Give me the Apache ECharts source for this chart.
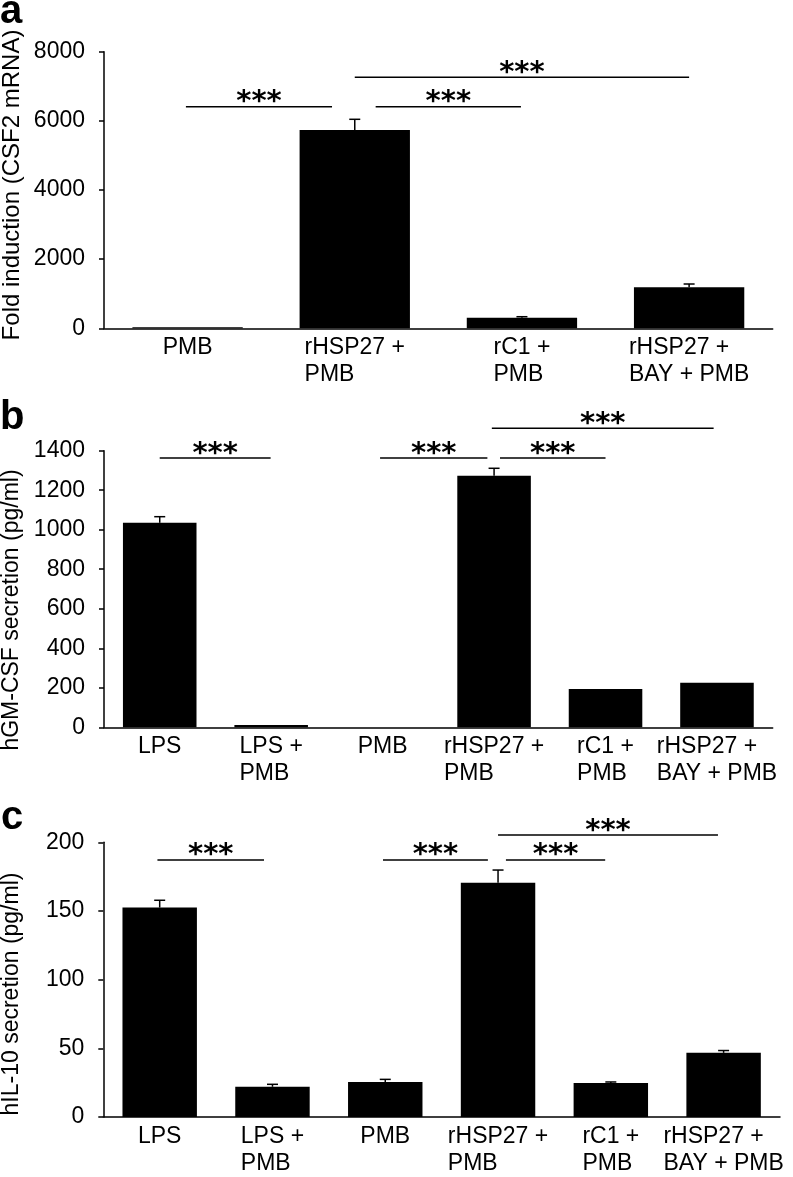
<!DOCTYPE html>
<html>
<head>
<meta charset="utf-8">
<script src="https://cdn.jsdelivr.net/npm/echarts@6/dist/echarts.min.js"></script>
<style>html,body{margin:0;padding:0;background:#fff;}#c{width:793px;height:1177px;}</style>
</head>
<body>
<div id="c"></div>
<script>
// ---- data ----
const catA = ['PMB', 'rHSP27 +\nPMB', 'rC1 +\nPMB', 'rHSP27 +\nBAY + PMB'];
const valA = [30, 5735, 307, 1186];
const errA = [0, 310, 28, 95];
const catB = ['LPS', 'LPS +\nPMB', 'PMB', 'rHSP27 +\nPMB', 'rC1 +\nPMB', 'rHSP27 +\nBAY + PMB'];
const valB = [1035, 12, 0, 1273, 194, 226];
const errB = [31, 0, 0, 38, 0, 0];
const catC = ['LPS', 'LPS +\nPMB', 'PMB', 'rHSP27 +\nPMB', 'rC1 +\nPMB', 'rHSP27 +\nBAY + PMB'];
const valC = [152.5, 22, 25.5, 170.5, 24.8, 46.7];
const errC = [5.3, 1.8, 1.9, 9.3, 0.7, 1.7];
// significance brackets: [from category pos, to category pos, height]
const sigA = [[-0.01, 0.864, 6410], [1.125, 1.994, 6410], [1.0, 3.0, 7260]];
const sigB = [[0, 0.995, 1363], [1.977, 2.94, 1363], [3.053, 4.0, 1363], [2.98, 4.97, 1513]];
const sigC = [[-0.02, 0.925, 187.2], [1.98, 2.91, 187.2], [3.07, 3.95, 187.2], [3.0, 4.95, 205.3]];
const yTicksA = {max: 8000, interval: 2000};
const yTicksB = {max: 1400, interval: 200};
const yTicksC = {max: 200, interval: 50};
const yNames = ['Fold induction (CSF2 mRNA)', 'hGM-CSF secretion (pg/ml)', 'hIL-10 secretion (pg/ml)'];
const panelLetters = ['a', 'b', 'c'];

const FONT = "'Liberation Sans', Arial, Helvetica, sans-serif";
const chart = echarts.init(document.getElementById('c'), null, {renderer: 'canvas'});

const grids = [
  {left: 104, right: 20.3, top: 51.7, height: 276.6},
  {left: 104, right: 20.3, top: 450.7, height: 276.6},
  {left: 103.3, right: 13, top: 842.3, height: 277}
];
const cats = [catA, catB, catC];
const vals = [valA, valB, valC];
const errs = [errA, errB, errC];
const sigs = [sigA, sigB, sigC];
const yt = [yTicksA, yTicksB, yTicksC];

const xAxis = [], yAxis = [], series = [];
cats.forEach((c, g) => {
  xAxis.push({
    type: 'category', gridIndex: g, data: c,
    axisLine: {onZero: false, lineStyle: {color: '#000', width: 1.5}},
    axisTick: {show: false},
    axisLabel: {
      interval: 0, margin: 6, color: '#000', fontFamily: FONT, fontSize: 23, lineHeight: 27,
      formatter: v => v.split('\n').map(l => '{l|' + l + '}').join('\n'),
      rich: {l: {align: 'left', fontFamily: FONT, fontSize: 23, lineHeight: 27, color: '#000'}}
    }
  });
  xAxis.push({
    type: 'value', gridIndex: g, min: -0.5, max: c.length - 0.5, show: false
  });
  yAxis.push({
    type: 'value', gridIndex: g, min: 0, max: yt[g].max, interval: yt[g].interval,
    splitLine: {show: false},
    axisLine: {show: true, onZero: false, lineStyle: {color: '#000', width: 1.5}},
    axisTick: {show: true, length: 5, lineStyle: {color: '#000', width: 1.5}},
    axisLabel: {margin: 19, color: '#000', fontFamily: FONT, fontSize: 23, formatter: v => String(v)}
  });
  series.push({
    type: 'bar', xAxisIndex: g * 2, yAxisIndex: g, data: vals[g],
    barWidth: '66%', itemStyle: {color: '#000'}, silent: true, animation: false
  });
  series.push({
    type: 'custom', xAxisIndex: g * 2 + 1, yAxisIndex: g, animation: false, silent: true,
    data: vals[g].map((v, i) => [i, v, v + errs[g][i]]),
    encode: {x: 0, y: [1, 2]},
    renderItem: (params, api) => {
      const i = api.value(0), v = api.value(1), t = api.value(2);
      if (t - v <= 0) return;
      const b = api.coord([i, v]), p = api.coord([i, t]);
      const st = {stroke: '#000', lineWidth: 1.5};
      return {type: 'group', children: [
        {type: 'line', shape: {x1: b[0], y1: b[1], x2: p[0], y2: p[1]}, style: st},
        {type: 'line', shape: {x1: p[0] - 5.5, y1: p[1], x2: p[0] + 5.5, y2: p[1]}, style: st}
      ]};
    }
  });
  series.push({
    type: 'custom', xAxisIndex: g * 2 + 1, yAxisIndex: g, animation: false, silent: true, clip: false,
    data: sigs[g],
    encode: {x: [0, 1], y: 2},
    renderItem: (params, api) => {
      const p1 = api.coord([api.value(0), api.value(2)]);
      const p2 = api.coord([api.value(1), api.value(2)]);
      return {type: 'group', children: [
        {type: 'line', shape: {x1: p1[0], y1: p1[1], x2: p2[0], y2: p2[1]}, style: {stroke: '#000', lineWidth: 1.5}},
        {type: 'text', x: (p1[0] + p2[0]) / 2, y: p1[1] - 4,
         style: {text: '***', fill: '#000', font: "bold 29px 'DejaVu Sans', sans-serif", textAlign: 'center', textVerticalAlign: 'middle'}}
      ]};
    }
  });
});

const graphic = [];
const yNamePos = [[12, 185], [12, 610], [12, 994]];
const yNameSize = [24, 23, 23];
const letterPos = [[0, 32], [0, 438], [1, 838]];
yNames.forEach((n, k) => {
  graphic.push({
    type: 'text', x: yNamePos[k][0], y: yNamePos[k][1], rotation: Math.PI / 2,
    style: {text: n, fill: '#000', font: yNameSize[k] + 'px ' + FONT, textAlign: 'center', textVerticalAlign: 'middle'}
  });
  graphic.push({
    type: 'text', x: letterPos[k][0], y: letterPos[k][1],
    style: {text: panelLetters[k], fill: '#000', font: 'bold 40px ' + FONT, textAlign: 'left', textVerticalAlign: 'bottom'}
  });
});

chart.setOption({
  animation: false,
  grid: grids,
  xAxis: xAxis,
  yAxis: yAxis,
  series: series,
  graphic: graphic
});
</script>
</body>
</html>
